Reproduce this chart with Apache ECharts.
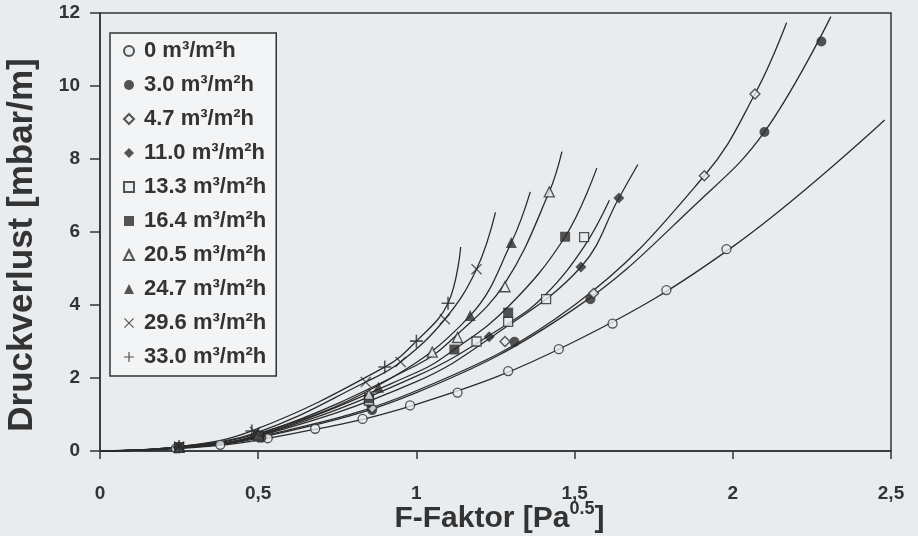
<!DOCTYPE html>
<html><head><meta charset="utf-8">
<script src="https://cdn.jsdelivr.net/npm/echarts@6/dist/echarts.min.js"></script>
<style>html,body{margin:0;padding:0;background:#e9ecef}#c{width:918px;height:536px}</style>
</head><body><div id="c"></div><script>
const seriesNames = ['0 m³/m²h','3.0 m³/m²h','4.7 m³/m²h','11.0 m³/m²h','13.3 m³/m²h','16.4 m³/m²h','20.5 m³/m²h','24.7 m³/m²h','29.6 m³/m²h','33.0 m³/m²h'];
const xTicks = [0, 0.5, 1, 1.5, 2, 2.5];
const yTicks = [0, 2, 4, 6, 8, 10, 12];

// measured points (F-Faktor, Druckverlust) per series
const markerF = [
  [0.24,0.38,0.53,0.68,0.83,0.98,1.13,1.29,1.45,1.62,1.79,1.98],
  [0.25,0.51,0.86,1.31,1.55,2.10,2.28],
  [0.25,0.50,0.86,1.28,1.56,1.91,2.07],
  [0.25,0.50,0.85,1.23,1.52,1.64],
  [0.25,0.50,0.85,1.19,1.29,1.41,1.53],
  [0.25,0.50,0.85,1.12,1.29,1.47],
  [0.25,0.50,0.85,1.05,1.13,1.28,1.42],
  [0.25,0.50,0.88,1.17,1.30],
  [0.25,0.49,0.84,0.95,1.09,1.19],
  [0.25,0.48,0.90,1.00,1.10]
];
const markerP = [
  [0.07,0.17,0.35,0.61,0.88,1.25,1.60,2.19,2.79,3.49,4.41,5.53],
  [0.08,0.36,1.12,2.99,4.16,8.74,11.22],
  [0.09,0.38,1.18,3.00,4.32,7.54,9.78],
  [0.09,0.40,1.30,3.13,5.04,6.93],
  [0.10,0.40,1.38,3.00,3.54,4.16,5.86],
  [0.10,0.42,1.45,2.78,3.79,5.87],
  [0.10,0.45,1.55,2.71,3.11,4.50,7.10],
  [0.11,0.48,1.75,3.71,5.71],
  [0.12,0.52,1.89,2.44,3.61,4.98],
  [0.12,0.55,2.30,3.01,4.05]
];
// fitted curves
const curveF = [
  [0,0.25,0.5,1,1.5,2,2.48],
  [0,0.25,0.5,1,1.5,1.9,2.1,2.31],
  [0,0.25,0.5,1,1.5,1.91,2.07,2.17],
  [0,0.25,0.5,1,1.25,1.52,1.64,1.70],
  [0,0.25,0.5,1,1.3,1.41,1.53,1.61],
  [0,0.25,0.5,1,1.12,1.29,1.47,1.57],
  [0,0.25,0.5,1,1.13,1.28,1.42,1.46],
  [0,0.25,0.5,0.88,1.17,1.30,1.36],
  [0,0.25,0.5,0.84,0.95,1.09,1.19,1.25],
  [0,0.25,0.48,0.9,1.0,1.1,1.14]
];
const curveP = [
  [0,0.07,0.3,1.28,3.0,5.6,9.07],
  [0,0.08,0.35,1.6,3.9,6.9,8.74,11.9],
  [0,0.09,0.38,1.65,4.0,7.54,9.78,11.73],
  [0,0.09,0.4,1.9,3.2,5.04,6.93,7.85],
  [0,0.1,0.42,2.05,3.55,4.3,5.6,6.87],
  [0,0.1,0.43,2.15,2.78,3.95,5.87,7.75],
  [0,0.1,0.45,2.35,3.2,4.6,7.1,8.2],
  [0,0.11,0.48,1.8,3.71,5.71,7.1],
  [0,0.12,0.52,1.89,2.44,3.61,4.98,6.54],
  [0,0.12,0.55,2.3,3.01,4.05,5.59]
];

const BG = '#e9ecef', INK = '#2b2b2b', TXT = '#333333';
const FONT = '"Liberation Sans", Arial, sans-serif';
const plusPath = 'path://M4.4,0H5.6V4.4H10V5.6H5.6V10H4.4V5.6H0V4.4H4.4Z';
const crossPath = 'path://M0,0.8L0.8,0L5,4.2L9.2,0L10,0.8L5.8,5L10,9.2L9.2,10L5,5.8L0.8,10L0,9.2L4.2,5Z';
const symbolDefs = [
  {s:'circle', size:9, open:true},
  {s:'circle', size:10, open:false},
  {s:'diamond', size:10, open:true},
  {s:'diamond', size:11, open:false},
  {s:'rect', size:9, open:true},
  {s:'rect', size:10, open:false},
  {s:'triangle', size:10, open:true},
  {s:'triangle', size:11, open:false},
  {s:crossPath, size:11, open:false},
  {s:plusPath, size:13, open:false}
];

const series = [];
seriesNames.forEach((name, i) => {
  series.push({
    name: 'curve' + i, type: 'line', smooth: 0.4, showSymbol: false, silent: true,
    data: curveF[i].map((f, k) => [f, curveP[i][k]]),
    lineStyle: {color: INK, width: 1.3}, z: 2
  });
  const d = symbolDefs[i];
  series.push({
    name: name, type: 'scatter', symbol: d.s, symbolSize: d.size,
    data: markerF[i].map((f, k) => [f, markerP[i][k]]),
    itemStyle: d.open ? {color: BG, borderColor: INK, borderWidth: 1.3} : {color: INK, borderWidth: 0},
    z: 3
  });
});

const chart = echarts.init(document.getElementById('c'), null, {renderer: 'canvas'});
chart.setOption({
  backgroundColor: BG,
  animation: false,
  textStyle: {fontFamily: FONT},
  grid: {left: 100, right: 27, top: 13, bottom: 85, show: true, borderColor: TXT, borderWidth: 1.5,
    backgroundColor: 'transparent', outerBoundsMode: 'none', containLabel: false},
  legend: {
    data: seriesNames, orient: 'vertical', left: 110, top: 33,
    backgroundColor: '#f3f4f5', borderColor: TXT, borderWidth: 1.5, borderRadius: 0,
    padding: [7, 10, 8, 13], itemGap: 12, itemWidth: 10, itemHeight: 10,
    textStyle: {fontSize: 22, fontWeight: 'bold', color: TXT, fontFamily: FONT, padding: [0, 0, 0, 5]}
  },
  xAxis: {
    type: 'value', min: xTicks[0], max: xTicks[xTicks.length - 1], interval: 0.5,
    name: 'F-Faktor [Pa{s|0.5}]', nameLocation: 'middle', nameGap: 49, nameMoveOverlap: false,
    nameTextStyle: {fontSize: 30, fontWeight: 'bold', color: TXT, fontFamily: FONT, lineHeight: 38, padding: [0, 0, 0, 8],
      rich: {s: {fontSize: 18, fontWeight: 'bold', color: TXT, fontFamily: FONT, verticalAlign: 'top', lineHeight: 20}}},
    axisLine: {lineStyle: {color: TXT, width: 1.5}},
    axisTick: {show: true, length: 8, lineStyle: {color: TXT, width: 1.5}},
    axisLabel: {fontSize: 19, fontWeight: 'bold', color: TXT, margin: 33, fontFamily: FONT,
      formatter: v => String(v).replace('.', ',')},
    splitLine: {show: false}
  },
  yAxis: {
    type: 'value', min: yTicks[0], max: yTicks[yTicks.length - 1], interval: 2,
    name: 'Druckverlust [mbar/m]', nameLocation: 'middle', nameGap: 60, nameMoveOverlap: false,
    nameTextStyle: {fontSize: 35, fontWeight: 'bold', color: TXT, fontFamily: FONT, padding: [0, 26, 0, 0]},
    axisLine: {lineStyle: {color: TXT, width: 1.5}},
    axisTick: {show: true, length: 10, lineStyle: {color: TXT, width: 1.5}},
    axisLabel: {fontSize: 19, fontWeight: 'bold', color: TXT, margin: 20, fontFamily: FONT},
    splitLine: {show: false}
  },
  series: series
});
</script></body></html>
